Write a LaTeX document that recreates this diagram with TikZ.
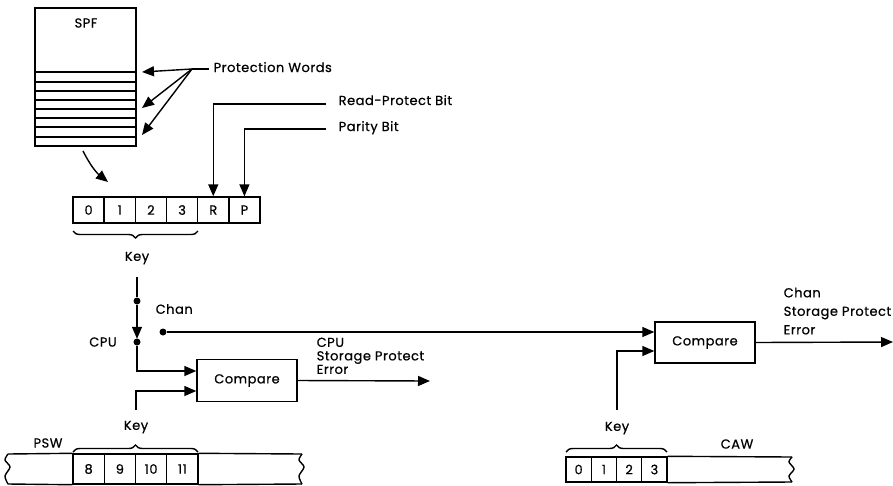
\documentclass[tikz,border=0pt]{standalone}
\usepackage{fontspec}
\setmainfont{Poppins}[LetterSpace=4,FakeBold=0.6]
\usetikzlibrary{arrows.meta,decorations.pathreplacing}
\begin{document}
\begin{tikzpicture}[x=1pt,y=-1pt,line width=1.4pt,
  font=\fontsize{13}{14}\selectfont,
  arr/.style={-{Triangle[length=12pt,width=10pt]}},
  cell/.style={draw,minimum height=26pt,inner sep=0pt,anchor=center},
  lbl/.style={inner sep=0pt},
  brc/.style={decorate,decoration={brace,amplitude=7pt}},
  dot/.style={circle,fill,inner sep=0pt,minimum size=7pt},
  cmpbox/.style={draw,minimum width=100pt,minimum height=42pt,inner sep=0pt}]
\useasboundingbox (0,0) rectangle (893,485);

% SPF
\node[draw,minimum width=101pt,minimum height=138pt,inner sep=0pt] (spf) at (85.5,77) {};
\node[lbl] (spft) at (86,23) {SPF};
\foreach \yy in {72,82,91,100,109,118,127,137}
  \draw (35,\yy) -- (136,\yy);
\node[lbl,anchor=base west] (pw) at (213,72) {Protection Words};
\coordinate (pwo) at (192,69);
\coordinate (pw1) at (142,72);
\coordinate (pw2) at (142,108);
\coordinate (pw3) at (142,135);
\draw ([xshift=-4pt,yshift=3pt]pw.base west) -- (pwo);
\foreach \t in {pw1,pw2,pw3} \draw[arr] (pwo) -- (\t);

% top register
\foreach \i/\t in {0/0,1/1,2/2,3/3,4/R,5/P}
  \node[cell,minimum width=31.17pt] (t\i) at ({88.58+31.17*\i},210) {\t};
\coordinate (spfa) at (83,151);
\coordinate (spfb) at (108,182);
\draw[arr] (spfa) to[bend right=12] (spfb);

% read-protect / parity
\node[lbl,anchor=base west] (rp) at (338,105) {Read-Protect Bit};
\node[lbl,anchor=base west] (pb) at (338,131) {Parity Bit};
\coordinate (rpe) at (326,104);
\coordinate (pbe) at (326,129);
\draw[arr] (rpe) -| (t4.north);
\draw[arr] (pbe) -| (t5.north);

% key brace top
\draw[brc] (198,231) -- (73,231);
\node[lbl] (key1) at (137,258) {Key};
\coordinate (k1a) at (137,277);
\node[dot] (sw) at (137,301) {};
\node[dot] (cpudot) at (137,342) {};
\draw (k1a) -- (sw);
\draw[arr] (sw) -- ([yshift=-1pt]cpudot.north);
\node[lbl] (cpu) at (103,342) {CPU};
\node[lbl,anchor=west] (chan) at (155,309) {Chan};
\node[dot] (chandot) at (163,332) {};

% CPU compare
\node[cmpbox] (cmp1) at (247,380.5) {Compare};
\draw[arr] (cpudot) |- ([yshift=9.5pt]cmp1.west);
\node[lbl] (key2) at (136,427) {Key};
\coordinate (k2a) at (136,410);
\draw[arr] (k2a) |- ([yshift=-10.5pt]cmp1.west);
\coordinate (out1) at (430,381);
\draw[arr] (cmp1.east) -- (out1);
\node[lbl,anchor=north west,align=left,font=\fontsize{13}{13.5}\selectfont] (err1) at (316,337) {CPU\\Storage Protect\\Error};

% PSW register
\node[lbl] (psw) at (48,443) {PSW};
\foreach \i/\t in {0/8,1/9,2/10,3/11}
  \node[cell,minimum width=31.25pt,minimum height=30pt] (p\i) at ({88.63+31.25*\i},469) {\t};
\draw (p3.north east) -- (302,454) (p3.south east) -- (302,484);
\draw (p0.north west) -- (8,454) (p0.south west) -- (8,484);
\draw plot[smooth] coordinates {(8,454) (5,460) (10,467) (5,476) (8,484)};
\draw plot[smooth] coordinates {(302,454) (299,460) (304,467) (299,476) (302,484)};
\draw[brc] (73,452) -- (198,452);

% Chan compare
\node[cmpbox,minimum height=41pt] (cmp2) at (705,342.5) {Compare};
\draw[arr] (chandot) -- (cmp2.west |- chandot);
\node[lbl] (key3) at (617,428) {Key};
\coordinate (k3a) at (617,410);
\draw[arr] (k3a) |- ([yshift=-8.5pt]cmp2.west);
\coordinate (out2) at (893,342);
\draw[arr] (cmp2.east) -- (out2);
\node[lbl,anchor=north west,align=left,font=\fontsize{13}{18.5}\selectfont] (err2) at (783,287) {Chan\\Storage Protect\\Error};

% CAW register
\node[lbl] (caw) at (737,444) {CAW};
\foreach \i/\t in {0/0,1/1,2/2,3/3}
  \node[cell,minimum width=25.25pt,minimum height=25pt] (c\i) at ({578.63+25.25*\i},469.5) {\t};
\draw (c3.north east) -- (792,457) (c3.south east) -- (792,482);
\draw plot[smooth] coordinates {(792,457) (789,462) (794,469) (789,476) (792,482)};
\draw[brc] (566,452) -- (667,452);
\end{tikzpicture}
\end{document}
